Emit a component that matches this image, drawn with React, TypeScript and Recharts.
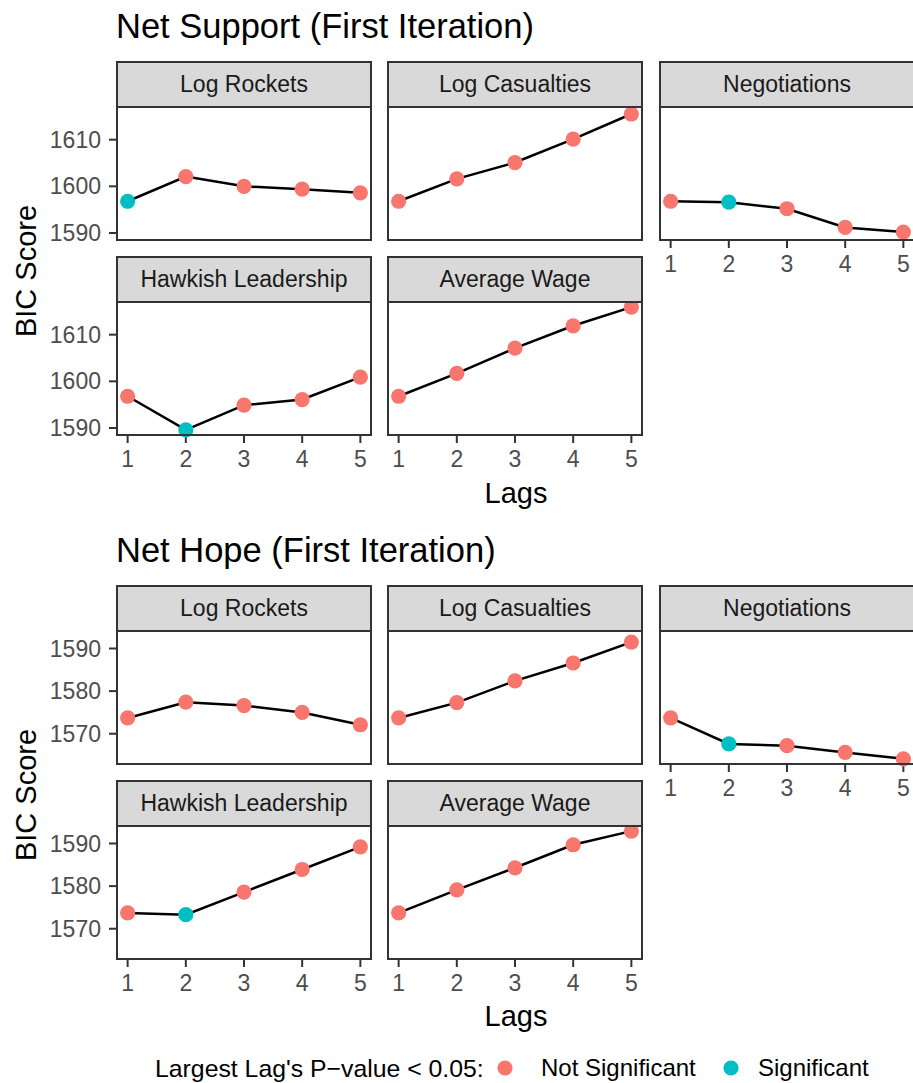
import React from 'react';
import { LineChart, Line, XAxis, YAxis } from 'recharts';

const lags = [1, 2, 3, 4, 5];

// Net Support (first iteration) BIC scores by lag
const supportLogRockets = [1596.8, 1602.1, 1600.0, 1599.4, 1598.6];
const supportLogCasualties = [1596.8, 1601.6, 1605.1, 1610.1, 1615.5];
const supportNegotiations = [1596.8, 1596.6, 1595.2, 1591.2, 1590.2];
const supportHawkish = [1596.8, 1589.6, 1594.9, 1596.1, 1600.9];
const supportAvgWage = [1596.8, 1601.7, 1607.1, 1611.9, 1615.9];

// Net Hope (first iteration) BIC scores by lag
const hopeLogRockets = [1573.7, 1577.4, 1576.6, 1575.0, 1572.1];
const hopeLogCasualties = [1573.7, 1577.3, 1582.4, 1586.6, 1591.5];
const hopeNegotiations = [1573.7, 1567.6, 1567.2, 1565.6, 1564.1];
const hopeHawkish = [1573.7, 1573.3, 1578.6, 1583.9, 1589.2];
const hopeAvgWage = [1573.7, 1579.1, 1584.3, 1589.7, 1592.9];

// largest lag's p-value < 0.05 (1 = significant)
const noneSig = [0, 0, 0, 0, 0];
const sigLag1 = [1, 0, 0, 0, 0];
const sigLag2 = [0, 1, 0, 0, 0];

const supportTicks = [1590, 1600, 1610];
const hopeTicks = [1570, 1580, 1590];

const FONT = '"Liberation Sans", Arial, Helvetica, sans-serif';
const RED = '#F8766D';
const TEAL = '#00BFC4';
const COLS = [116, 387, 659];
const PANEL_W = 256;
const STRIP_H = 45;
const PLOT_H = 135;
const ROW_GAP = 15;
const AXIS_W = 70;
const XAXIS_H = 40;
const PAD_B = 16;

const expand = (series: number[][]): [number, number] => {
  const all = series.flat();
  const lo = Math.min(...all);
  const hi = Math.max(...all);
  const pad = (hi - lo) * 0.05;
  return [lo - pad, hi + pad];
};

interface PanelProps {
  label: string;
  values: number[];
  sig: number[];
  col: number;
  row: number;
  top: number;
  domain: [number, number];
  yTicks: number[];
  showX: boolean;
}

const renderDot = (props: any) => (
  <circle
    key={`dot-${props.index}`}
    cx={props.cx}
    cy={props.cy}
    r={7.6}
    fill={props.payload.sig ? TEAL : RED}
  />
);

function Panel({ label, values, sig, col, row, top, domain, yTicks, showX }: PanelProps) {
  const left = COLS[col];
  const stripTop = top + row * (STRIP_H + PLOT_H + ROW_GAP);
  const plotTop = stripTop + STRIP_H;
  const showY = col === 0;
  const data = lags.map((lag, i) => ({ lag, bic: values[i], sig: sig[i] }));
  const tickStyle = { fill: '#4D4D4D', fontSize: 23, fontFamily: FONT };

  return (
    <>
      <div
        style={{
          position: 'absolute',
          left,
          top: stripTop,
          width: PANEL_W,
          height: STRIP_H + 2,
          boxSizing: 'border-box',
          background: '#D9D9D9',
          border: '2px solid #333333',
          display: 'flex',
          alignItems: 'center',
          justifyContent: 'center',
          fontSize: 23,
          color: '#1A1A1A',
        }}
      >
        {label}
      </div>
      <div style={{ position: 'absolute', left: left - (showY ? AXIS_W : 0), top: plotTop }}>
        <LineChart
          width={PANEL_W + (showY ? AXIS_W : 0)}
          height={PLOT_H + (showX ? XAXIS_H : PAD_B)}
          data={data}
          margin={{ top: 0, right: 0, bottom: showX ? 0 : PAD_B, left: 0 }}
        >
          <XAxis
            dataKey="lag"
            type="number"
            domain={[0.8, 5.2]}
            ticks={lags}
            interval={0}
            hide={!showX}
            height={XAXIS_H}
            axisLine={false}
            tickSize={7}
            tickMargin={8}
            tickLine={{ stroke: '#333333', strokeWidth: 2 }}
            tick={tickStyle}
          />
          <YAxis
            type="number"
            domain={domain}
            ticks={yTicks}
            interval={0}
            hide={!showY}
            width={AXIS_W}
            axisLine={false}
            tickSize={7}
            tickMargin={8}
            tickLine={{ stroke: '#333333', strokeWidth: 2 }}
            tick={tickStyle}
          />
          <Line dataKey="bic" stroke="none" dot={renderDot} isAnimationActive={false} />
          <Line
            dataKey="bic"
            stroke="#000000"
            strokeWidth={2.5}
            dot={false}
            isAnimationActive={false}
          />
        </LineChart>
      </div>
      <div
        style={{
          position: 'absolute',
          left,
          top: plotTop,
          width: PANEL_W,
          height: PLOT_H,
          boxSizing: 'border-box',
          border: '2px solid #333333',
          pointerEvents: 'none',
        }}
      />
    </>
  );
}

function FacetBlock({
  top,
  series,
  sigs,
  yTicks,
}: {
  top: number;
  series: number[][];
  sigs: number[][];
  yTicks: number[];
}) {
  const labels = ['Log Rockets', 'Log Casualties', 'Negotiations', 'Hawkish Leadership', 'Average Wage'];
  const domain = expand(series);
  return (
    <>
      {labels.map((label, i) => {
        const row = i < 3 ? 0 : 1;
        const col = i < 3 ? i : i - 3;
        return (
          <Panel
            key={label}
            label={label}
            values={series[i]}
            sig={sigs[i]}
            col={col}
            row={row}
            top={top}
            domain={domain}
            yTicks={yTicks}
            showX={row === 1 || col === 2}
          />
        );
      })}
    </>
  );
}

export default function App() {
  return (
    <div
      style={{
        position: 'absolute',
        left: 0,
        top: 0,
        width: 913,
        height: 1083,
        overflow: 'hidden',
        background: '#ffffff',
        fontFamily: FONT,
      }}
    >
      <svg width={913} height={1083} style={{ position: 'absolute', left: 0, top: 0 }} fontFamily={FONT}>
        <text x={116} y={38} fontSize={34.5} fill="#000">Net Support (First Iteration)</text>
        <text x={116} y={562} fontSize={34.5} fill="#000">Net Hope (First Iteration)</text>
        <text x={36} y={271} fontSize={29} fill="#000" textAnchor="middle" transform="rotate(-90 36 271)">BIC Score</text>
        <text x={36} y={795} fontSize={29} fill="#000" textAnchor="middle" transform="rotate(-90 36 795)">BIC Score</text>
        <text x={516} y={503} fontSize={29} fill="#000" textAnchor="middle">Lags</text>
        <text x={516} y={1026} fontSize={29} fill="#000" textAnchor="middle">Lags</text>
        <text x={155} y={1077} fontSize={24.8} fill="#000">Largest Lag's P−value &lt; 0.05:</text>
        <circle cx={505} cy={1068} r={7.6} fill={RED} />
        <text x={541} y={1076} fontSize={24} fill="#000">Not Significant</text>
        <circle cx={731} cy={1068} r={7.6} fill={TEAL} />
        <text x={758} y={1076} fontSize={24} fill="#000">Significant</text>
      </svg>
      <FacetBlock
        top={61}
        series={[supportLogRockets, supportLogCasualties, supportNegotiations, supportHawkish, supportAvgWage]}
        sigs={[sigLag1, noneSig, sigLag2, sigLag2, noneSig]}
        yTicks={supportTicks}
      />
      <FacetBlock
        top={585}
        series={[hopeLogRockets, hopeLogCasualties, hopeNegotiations, hopeHawkish, hopeAvgWage]}
        sigs={[noneSig, noneSig, sigLag2, sigLag2, noneSig]}
        yTicks={hopeTicks}
      />
    </div>
  );
}
